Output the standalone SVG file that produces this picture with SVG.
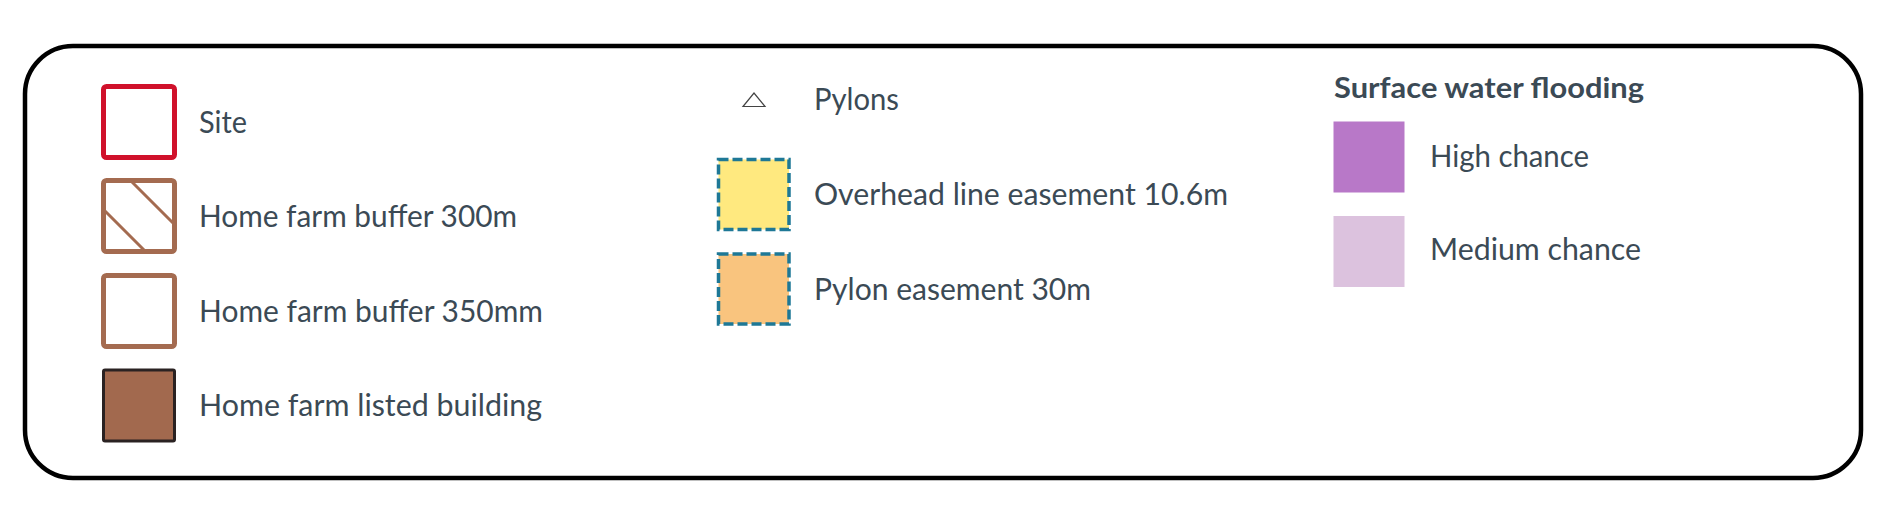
<svg xmlns="http://www.w3.org/2000/svg" width="1890" height="507" viewBox="0 0 1890 507">
<style>
.t{font-family:Lato,"Open Sans","Liberation Sans",sans-serif;font-size:30px;fill:#3B4A55;}
.h{font-family:Lato,"Open Sans","Liberation Sans",sans-serif;font-size:28px;font-weight:bold;fill:#3B4A55;}
.brown{fill:#fff;stroke:#A46B50;stroke-width:5;}
.dash{stroke:#1E7896;stroke-width:3.5;stroke-dasharray:10 4;}
</style>
<rect width="1890" height="507" fill="#fff"/>
<rect id="frame" x="25" y="46" width="1836" height="432" rx="48" ry="48" fill="none" stroke="#000" stroke-width="4.5"/>
<g id="site">
<rect x="103.5" y="86.5" width="71" height="71" rx="3" fill="#fff" stroke="#D0112B" stroke-width="5"/>
<text class="t" x="199" y="133" textLength="48" lengthAdjust="spacingAndGlyphs">Site</text>
</g>
<g id="buffer300">
<rect class="brown" x="103.5" y="180.5" width="71" height="71" rx="3"/>
<line x1="130" y1="180" x2="175" y2="225" stroke="#A46B50" stroke-width="3"/>
<line x1="103" y1="209" x2="146" y2="252" stroke="#A46B50" stroke-width="3"/>
<text class="t" x="199" y="227" textLength="318" lengthAdjust="spacingAndGlyphs">Home farm buffer 300m</text>
</g>
<g id="buffer350">
<rect class="brown" x="103.5" y="275.5" width="71" height="71" rx="3"/>
<text class="t" x="199" y="322" textLength="344" lengthAdjust="spacingAndGlyphs">Home farm buffer 350mm</text>
</g>
<g id="listed">
<rect x="103.5" y="370" width="71" height="71" rx="1.5" fill="#A2694E" stroke="#2A2222" stroke-width="3"/>
<text class="t" x="199" y="416" textLength="343" lengthAdjust="spacingAndGlyphs">Home farm listed building</text>
</g>
<g id="pylons">
<polygon points="743,106.5 765,106.5 754,93" fill="#fff" stroke="#444" stroke-width="1.2"/>
<text class="t" x="814" y="110" textLength="85" lengthAdjust="spacingAndGlyphs">Pylons</text>
</g>
<g id="overhead">
<rect class="dash" x="718.5" y="159.5" width="70.5" height="70" fill="#FFE97F"/>
<text class="t" x="814" y="205" textLength="414" lengthAdjust="spacingAndGlyphs">Overhead line easement 10.6m</text>
</g>
<g id="pylon-easement">
<rect class="dash" x="718.5" y="254" width="70.5" height="70" fill="#F9C47E"/>
<text class="t" x="814" y="299.5" textLength="277" lengthAdjust="spacingAndGlyphs">Pylon easement 30m</text>
</g>
<g id="flooding">
<text class="h" x="1334" y="97.5" textLength="310" lengthAdjust="spacingAndGlyphs">Surface water flooding</text>
</g>
<g id="high">
<rect x="1333.5" y="121.5" width="71" height="71" fill="#B878C8"/>
<text class="t" x="1430" y="167" textLength="159" lengthAdjust="spacingAndGlyphs">High chance</text>
</g>
<g id="medium">
<rect x="1333.5" y="216" width="71" height="71" fill="#DCC2DE"/>
<text class="t" x="1430" y="260" textLength="211" lengthAdjust="spacingAndGlyphs">Medium chance</text>
</g>
<g id="connectors"></g>
</svg>
